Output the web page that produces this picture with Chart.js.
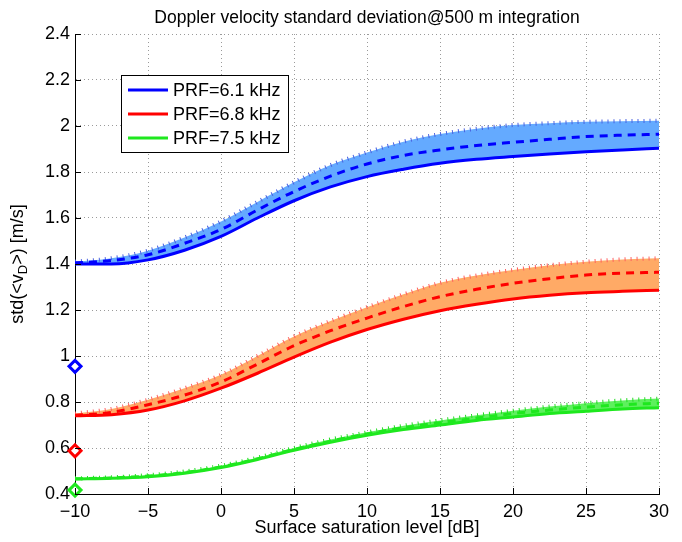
<!DOCTYPE html>
<html>
<head>
<meta charset="utf-8">
<script src="https://cdn.jsdelivr.net/npm/chart.js@4.4.1/dist/chart.umd.min.js"></script>
<style>
  body { margin: 0; background: #fff; }
  #wrap { width: 682px; height: 542px; }
</style>
</head>
<body>
<div id="wrap"><canvas id="chart" width="682" height="542"></canvas></div>
<script>
// data
const xDb = [-10, -7.5, -5, -2.5, 0, 2.5, 5, 7.5, 10, 12.5, 15, 17.5, 20, 22.5, 25, 27.5, 30];

const names = ["PRF=6.1 kHz", "PRF=6.8 kHz", "PRF=7.5 kHz"];

const blueLow  = [1.40, 1.40, 1.418, 1.46, 1.52, 1.60, 1.675, 1.735, 1.78, 1.812, 1.838, 1.855, 1.867, 1.878, 1.888, 1.896, 1.903];
const blueMid  = [1.405, 1.415, 1.44, 1.49, 1.55, 1.635, 1.715, 1.782, 1.835, 1.872, 1.896, 1.915, 1.929, 1.942, 1.954, 1.96, 1.964];
const blueHigh = [1.41, 1.425, 1.458, 1.515, 1.585, 1.67, 1.755, 1.83, 1.885, 1.932, 1.965, 1.988, 2.004, 2.012, 2.018, 2.021, 2.023];

const redLow  = [0.74, 0.745, 0.765, 0.805, 0.86, 0.925, 0.995, 1.06, 1.115, 1.16, 1.197, 1.225, 1.248, 1.264, 1.275, 1.281, 1.286];
const redMid  = [0.742, 0.755, 0.788, 0.83, 0.887, 0.965, 1.045, 1.11, 1.165, 1.215, 1.258, 1.29, 1.316, 1.336, 1.352, 1.36, 1.364];
const redHigh = [0.75, 0.77, 0.81, 0.86, 0.918, 1.0, 1.085, 1.152, 1.212, 1.268, 1.318, 1.35, 1.374, 1.395, 1.41, 1.42, 1.425];

const greenLow  = [0.465, 0.468, 0.475, 0.49, 0.515, 0.55, 0.59, 0.625, 0.655, 0.68, 0.70, 0.72, 0.735, 0.75, 0.76, 0.77, 0.775];
const greenMid  = [0.466, 0.47, 0.478, 0.493, 0.518, 0.553, 0.594, 0.63, 0.661, 0.688, 0.71, 0.73, 0.75, 0.765, 0.778, 0.788, 0.795];
const greenHigh = [0.468, 0.473, 0.482, 0.498, 0.523, 0.558, 0.60, 0.637, 0.668, 0.697, 0.72, 0.742, 0.762, 0.78, 0.795, 0.807, 0.815];

// diamonds on the y axis at -10 dB
const markerX = -10;
const markerY = [0.955, 0.588, 0.417];

const xTicks = [-10, -5, 0, 5, 10, 15, 20, 25, 30];
const yTicks = [0.4, 0.6, 0.8, 1.0, 1.2, 1.4, 1.6, 1.8, 2.0, 2.2, 2.4];

const lineColors = ["#0000ff", "#ff0000", "#1ee81e"];
const fillColors = ["#64aaff", "#ffaa66", "#5ef05e"];
const edgeColors = ["#4a62e0", "#ff6060", "#22dd22"];

const FONT = '"Liberation Sans", Arial, Helvetica, sans-serif';

function pts(ys) {
    return xDb.map((x, i) => ({ x: x, y: ys[i] }));
}

function bandSets(low, mid, high, k) {
    return [
        {
            data: pts(low), borderColor: lineColors[k], borderWidth: 3,
            pointRadius: 0, fill: false, cubicInterpolationMode: "monotone"
        },
        {
            data: pts(mid), borderColor: lineColors[k], borderWidth: 3,
            borderDash: [8, 6], pointRadius: 0, fill: false, cubicInterpolationMode: "monotone"
        },
        {
            data: pts(high), borderColor: edgeColors[k], borderWidth: 4,
            borderDash: [1, 5], pointRadius: 0, cubicInterpolationMode: "monotone",
            fill: { target: "-2" }, backgroundColor: fillColors[k]
        }
    ];
}

const datasets = [].concat(
    [{
        data: markerY.map(y => ({ x: markerX, y: y })),
        showLine: false,
        pointStyle: "rectRot",
        pointRadius: 6,
        pointBorderWidth: 3,
        pointBorderColor: lineColors,
        pointBackgroundColor: "#ffffff",
        clip: false
    }],
    bandSets(blueLow, blueMid, blueHigh, 0),
    bandSets(redLow, redMid, redHigh, 1),
    bandSets(greenLow, greenMid, greenHigh, 2)
);

// title, axis labels, inward ticks and the legend box
const decor = {
    id: "decor",
    afterDraw(chart) {
        const ctx = chart.ctx;
        const a = chart.chartArea;
        const xs = chart.scales.x, ys = chart.scales.y;
        ctx.save();

        // inward ticks
        ctx.strokeStyle = "#000";
        ctx.lineWidth = 1;
        ctx.beginPath();
        yTicks.forEach(v => {
            const py = Math.round(ys.getPixelForValue(v)) + 0.5;
            ctx.moveTo(a.left, py);
            ctx.lineTo(a.left + 6, py);
        });
        xTicks.forEach(v => {
            const px = Math.round(xs.getPixelForValue(v)) + 0.5;
            ctx.moveTo(px, a.bottom);
            ctx.lineTo(px, a.bottom - 6);
        });
        ctx.stroke();

        ctx.fillStyle = "#000";
        ctx.textAlign = "center";
        ctx.textBaseline = "middle";

        ctx.font = "17.5px " + FONT;
        ctx.fillText("Doppler velocity standard deviation@500 m integration", (a.left + a.right) / 2, 18);

        ctx.font = "18px " + FONT;
        ctx.fillText("Surface saturation level [dB]", (a.left + a.right) / 2, 528);

        // y title with subscript D
        ctx.save();
        ctx.translate(18, (a.top + a.bottom) / 2);
        ctx.rotate(-Math.PI / 2);
        const big = "18px " + FONT, small = "13px " + FONT;
        const p1 = "std(<v", p2 = "D", p3 = ">) [m/s]";
        ctx.font = big; const w1 = ctx.measureText(p1).width, w3 = ctx.measureText(p3).width;
        ctx.font = small; const w2 = ctx.measureText(p2).width;
        let x0 = -(w1 + w2 + w3) / 2;
        ctx.textAlign = "left";
        ctx.font = big; ctx.fillText(p1, x0, 0);
        ctx.font = small; ctx.fillText(p2, x0 + w1, 5);
        ctx.font = big; ctx.fillText(p3, x0 + w1 + w2, 0);
        ctx.restore();

        // legend
        const lx = 121, ly = 75, lw = 167, lh = 77;
        ctx.fillStyle = "#fff";
        ctx.fillRect(lx, ly, lw, lh);
        ctx.strokeStyle = "#000";
        ctx.lineWidth = 1;
        ctx.strokeRect(lx + 0.5, ly + 0.5, lw, lh);
        ctx.font = "18px " + FONT;
        ctx.textAlign = "left";
        names.forEach((n, i) => {
            const yy = ly + 15 + i * 24;
            ctx.strokeStyle = lineColors[i];
            ctx.lineWidth = 3;
            ctx.beginPath();
            ctx.moveTo(lx + 7, yy);
            ctx.lineTo(lx + 47, yy);
            ctx.stroke();
            ctx.fillStyle = "#000";
            ctx.fillText(n, lx + 52, yy + 1);
        });
        ctx.restore();
    }
};

new Chart(document.getElementById("chart"), {
    type: "line",
    data: { datasets: datasets },
    options: {
        responsive: false,
        animation: false,
        layout: { padding: { left: 0, right: 23, top: 34, bottom: 0 } },
        plugins: { legend: { display: false }, tooltip: { enabled: false }, title: { display: false } },
        scales: {
            x: {
                type: "linear",
                min: -10, max: 30,
                afterBuildTicks: s => { s.ticks = xTicks.map(v => ({ value: v })); },
                afterFit: s => { s.height = 48; },
                ticks: {
                    color: "#000", padding: 7,
                    font: { family: FONT, size: 18 },
                    maxRotation: 0,
                    callback: v => String(v).replace("-", "\u2212")
                },
                grid: { color: "#9a9a9a", lineWidth: 1, drawTicks: false },
                border: { display: true, color: "#000", width: 1, dash: [1, 3] }
            },
            y: {
                min: 0.4, max: 2.4,
                afterBuildTicks: s => { s.ticks = yTicks.map(v => ({ value: v })); },
                afterFit: s => { s.width = 75; },
                ticks: {
                    color: "#000", padding: 5,
                    font: { family: FONT, size: 18 },
                    callback: v => String(Math.round(v * 10) / 10)
                },
                grid: { color: "#9a9a9a", lineWidth: 1, drawTicks: false },
                border: { display: true, color: "#000", width: 1, dash: [1, 3] }
            }
        }
    },
    plugins: [decor]
});
</script>
</body>
</html>
